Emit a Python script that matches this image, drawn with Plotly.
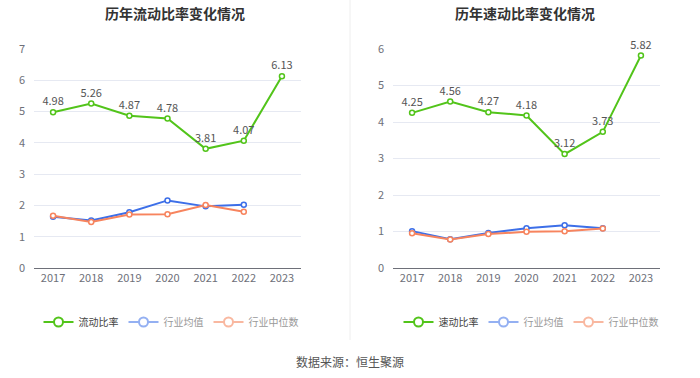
import plotly.graph_objects as go

years = ["2017", "2018", "2019", "2020", "2021", "2022", "2023"]
current_ratio = [4.98, 5.26, 4.87, 4.78, 3.81, 4.07, 6.13]
current_avg = [1.64, 1.52, 1.78, 2.16, 1.97, 2.02, None]
current_med = [1.67, 1.47, 1.71, 1.72, 2.01, 1.80, None]
quick_ratio = [4.25, 4.56, 4.27, 4.18, 3.12, 3.73, 5.82]
quick_avg = [1.01, 0.79, 0.96, 1.09, 1.17, 1.09, None]
quick_med = [0.95, 0.78, 0.93, 0.99, 1.01, 1.08, None]

GREEN = "#52c41a"
BLUE = "#3d6fe8"
ORANGE = "#f7845e"
BLUE_L = "#94b0f2"
ORANGE_L = "#f9b8a0"
FONT = "Noto Sans CJK SC"

fig = go.Figure()

def add_series(x_ref, y_ref, legend, main_name, main, avg, med):
    fig.add_trace(go.Scatter(
        x=years, y=avg, name="行业均值", mode="lines+markers", showlegend=False,
        line=dict(color=BLUE, width=2),
        marker=dict(symbol="circle", size=5, color="white", line=dict(color=BLUE, width=1.5)),
        xaxis=x_ref, yaxis=y_ref))
    fig.add_trace(go.Scatter(
        x=years, y=med, name="行业中位数", mode="lines+markers", showlegend=False,
        line=dict(color=ORANGE, width=2),
        marker=dict(symbol="circle", size=5, color="white", line=dict(color=ORANGE, width=1.5)),
        xaxis=x_ref, yaxis=y_ref))
    fig.add_trace(go.Scatter(
        x=years, y=main, name=main_name, mode="lines+markers+text", showlegend=False,
        text=[f"{v:.2f}" for v in main], textposition="top center",
        textfont=dict(size=11, color="#555", family=FONT),
        line=dict(color=GREEN, width=2),
        marker=dict(symbol="circle", size=5, color="white", line=dict(color=GREEN, width=1.5)),
        xaxis=x_ref, yaxis=y_ref, cliponaxis=False))
    for nm, col, tcol in [(main_name, GREEN, "#444"), ("行业均值", BLUE_L, "#999"), ("行业中位数", ORANGE_L, "#999")]:
        fig.add_trace(go.Scatter(
            x=[None], y=[None], mode="lines+markers",
            name=f"<span style='color:{tcol}'>{nm}</span>",
            line=dict(color=col, width=2),
            marker=dict(symbol="circle", size=9, color="white", line=dict(color=col, width=2)),
            xaxis=x_ref, yaxis=y_ref, legend=legend))

add_series("x", "y", "legend", "流动比率", current_ratio, current_avg, current_med)
add_series("x2", "y2", "legend2", "速动比率", quick_ratio, quick_avg, quick_med)

xaxis_common = dict(type="category", range=[-0.5, 6.5], showgrid=False, showline=True,
                    linecolor="#6e7079", linewidth=1, ticks="", zeroline=False,
                    tickfont=dict(size=11, color="#6e7079", family=FONT), fixedrange=True)
yaxis_common = dict(showgrid=True, gridcolor="#e6e9f2", gridwidth=1, zeroline=False,
                    showline=False, ticks="", dtick=1, ticklabelstandoff=8,
                    tickfont=dict(size=11, color="#6e7079", family=FONT), fixedrange=True)

ydom = [1 - 268 / 378, 1 - 49 / 378]
fig.update_layout(
    width=700, height=378,
    margin=dict(l=0, r=0, t=0, b=0, autoexpand=False),
    paper_bgcolor="white", plot_bgcolor="white",
    font=dict(family=FONT),
    showlegend=True,
    xaxis=dict(domain=[34 / 700, 301 / 700], anchor="y", **xaxis_common),
    yaxis=dict(domain=ydom, anchor="x", range=[0, 7], **yaxis_common),
    xaxis2=dict(domain=[393 / 700, 660 / 700], anchor="y2", **xaxis_common),
    yaxis2=dict(domain=ydom, anchor="x2", range=[0, 6], **yaxis_common),
    legend=dict(orientation="h", x=171 / 700, y=1 - 322 / 378, xanchor="center", yanchor="middle",
                font=dict(size=10, color="#444", family=FONT), itemwidth=30,
                bgcolor="rgba(0,0,0,0)"),
    legend2=dict(orientation="h", x=531 / 700, y=1 - 322 / 378, xanchor="center", yanchor="middle",
                 font=dict(size=10, color="#444", family=FONT), itemwidth=30,
                 bgcolor="rgba(0,0,0,0)"),
    annotations=[
        dict(text="<b>历年流动比率变化情况</b>", x=175 / 700, y=1 - 13 / 378, xref="paper", yref="paper",
             showarrow=False, font=dict(size=14, color="#333", family=FONT), xanchor="center", yanchor="middle"),
        dict(text="<b>历年速动比率变化情况</b>", x=525 / 700, y=1 - 13 / 378, xref="paper", yref="paper",
             showarrow=False, font=dict(size=14, color="#333", family=FONT), xanchor="center", yanchor="middle"),
        dict(text="数据来源：恒生聚源", x=0.5, y=1 - 361 / 378, xref="paper", yref="paper",
             showarrow=False, font=dict(size=12, color="#555", family=FONT), xanchor="center", yanchor="middle"),
    ],
    shapes=[dict(type="line", xref="paper", yref="paper", x0=0.5, x1=0.5, y0=1 - 340 / 378, y1=1,
                 line=dict(color="#eeeeee", width=1))],
)

fig.write_html("out.html", config={"displayModeBar": False},
               post_script="document.body.style.margin='0';")
